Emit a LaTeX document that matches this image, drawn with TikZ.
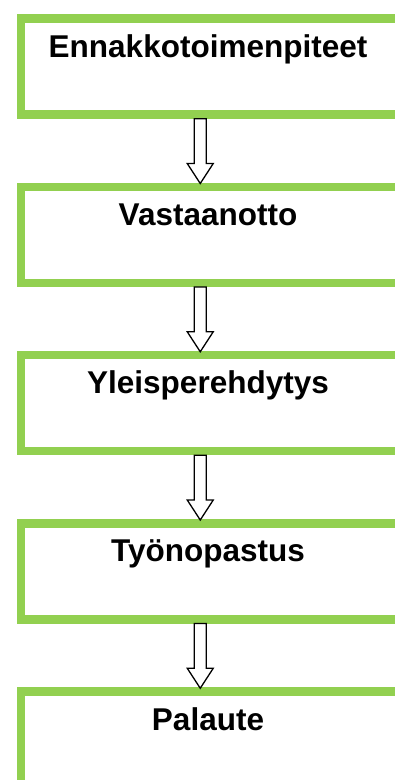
\documentclass[tikz,border=0pt]{standalone}
\usepackage{fontspec}
\setmainfont{Liberation Sans}
\usetikzlibrary{calc}
\definecolor{boxgreen}{RGB}{146,208,80}
\tikzset{
  stepbox/.style={draw=boxgreen, line width=8.5pt, fill=white, rectangle,
    minimum width=383.5pt, minimum height=96pt, inner sep=0pt, anchor=north west},
  steptext/.style={anchor=base, font=\bfseries\fontsize{31.5}{36}\selectfont, inner sep=0pt},
  hollowarrow/.style={draw=black, fill=white, line width=1.3pt, line join=miter}
}
\begin{document}
\begin{tikzpicture}[x=1pt,y=-1pt]
\useasboundingbox (0,0) rectangle (395,780);
\clip (0,0) rectangle (395,780);
\fill[white] (0,0) rectangle (395,780);
\foreach \i/\t in {1/Ennakkotoimenpiteet,2/Vastaanotto,3/Yleisperehdytys,4/Työnopastus,5/Palaute}{
  \node[stepbox] (b\i) at (16.5,{14.25+168.25*(\i-1)}) {};
  \node[steptext] (t\i) at (208,{57+168.25*(\i-1)}) {\t};
}
\foreach \a/\b in {1/2,2/3,3/4,4/5}{
  \coordinate (s\a) at ($(b\a.south)+(-12.25,0)$);
  \coordinate (e\a) at ($(b\b.north)+(-12.25,1)$);
  \draw[hollowarrow] ($(s\a)+(-6,0)$) -- ($(s\a)+(6,0)$) -- ($(e\a)+(6,-20)$)
    -- ($(e\a)+(13,-20)$) -- (e\a) -- ($(e\a)+(-13,-20)$) -- ($(e\a)+(-6,-20)$) -- cycle;
}
\end{tikzpicture}
\end{document}
